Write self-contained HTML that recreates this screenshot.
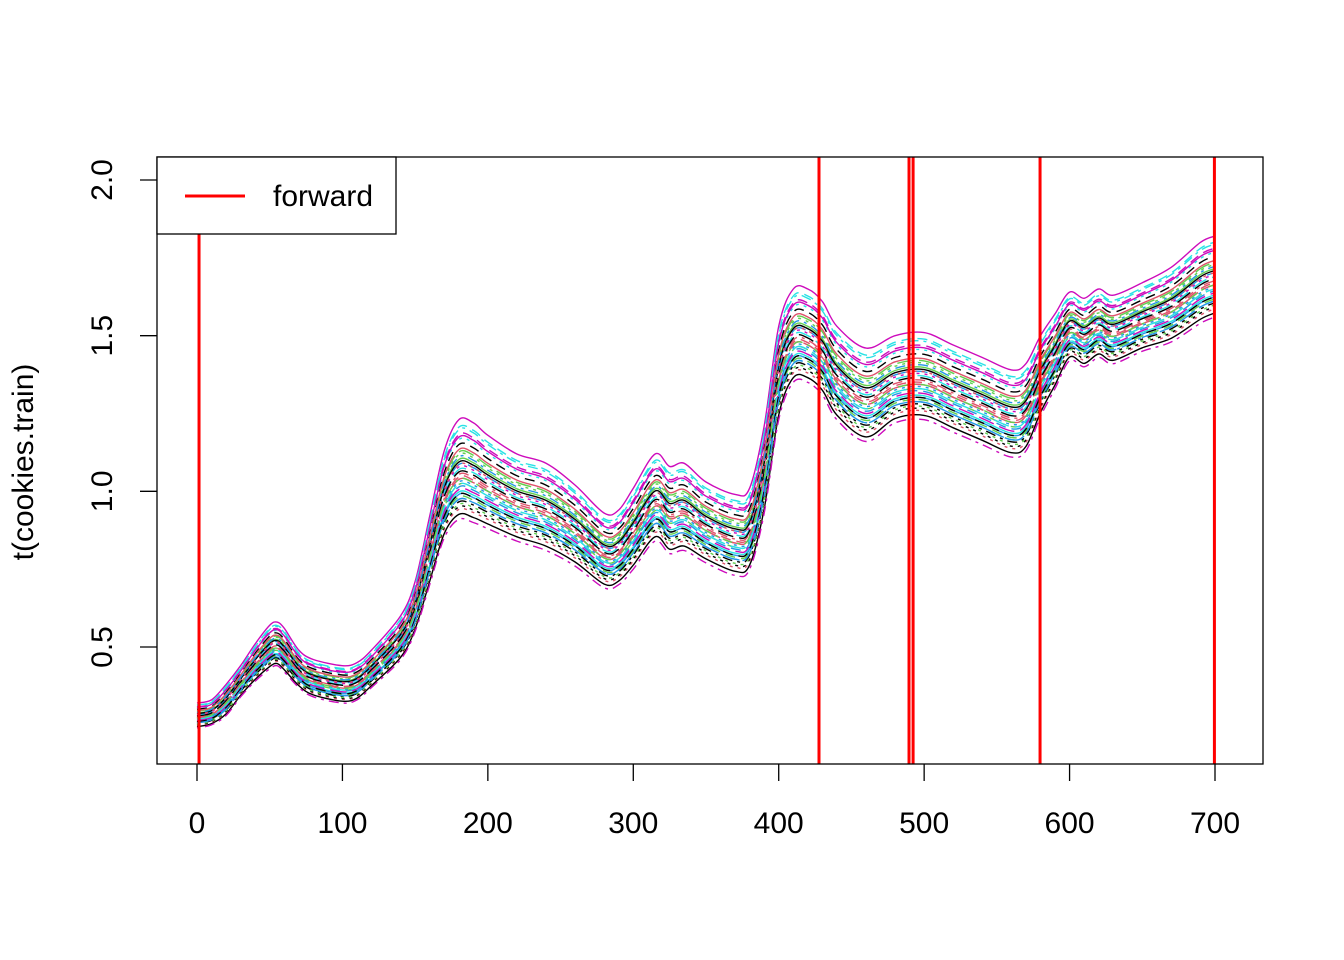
<!DOCTYPE html>
<html><head><meta charset="utf-8"><style>
html,body{margin:0;padding:0;background:#fff}
svg{display:block;font-family:"Liberation Sans",Arial,sans-serif}
</style></head><body>
<svg id="chart" width="1344" height="960" viewBox="0 0 1344 960">
<g id="lines"></g>
<g id="sel"></g>
<rect x="157" y="157" width="1106" height="607" fill="none" stroke="#000" stroke-width="1.3"/>
<g id="xaxis"></g>
<g id="yaxis"></g>
<text transform="translate(33,462) rotate(-90)" text-anchor="middle" font-size="30">t(cookies.train)</text>
<g>
<rect x="157" y="157" width="239" height="77" fill="#fff" stroke="#000" stroke-width="1.3"/>
<line x1="185" y1="196" x2="245" y2="196" stroke="#ff0000" stroke-width="3"/>
<text x="273" y="206" font-size="30">forward</text>
</g>
</svg>
<script>
const xs=[0,10,20,30,40,50,55,60,70,80,100,110,120,140,150,160,170,180,190,200,220,240,260,280,290,300,315,325,335,350,370,380,390,400,410,420,430,440,460,480,500,520,540,560,570,580,590,600,610,620,630,650,670,690,700];
const baseValues=[0.28,0.29,0.33,0.39,0.45,0.50,0.51,0.49,0.43,0.40,0.38,0.39,0.43,0.53,0.63,0.81,0.99,1.07,1.06,1.03,0.98,0.95,0.89,0.81,0.82,0.88,0.98,0.94,0.95,0.90,0.86,0.88,1.07,1.38,1.50,1.50,1.46,1.38,1.31,1.36,1.37,1.33,1.29,1.25,1.27,1.37,1.45,1.53,1.51,1.54,1.52,1.56,1.60,1.67,1.69];
const spreadValues=[0.04,0.04,0.05,0.05,0.06,0.07,0.07,0.07,0.06,0.06,0.06,0.06,0.06,0.07,0.08,0.11,0.14,0.16,0.16,0.15,0.14,0.14,0.13,0.12,0.12,0.13,0.14,0.14,0.14,0.13,0.13,0.13,0.14,0.15,0.15,0.15,0.15,0.15,0.15,0.14,0.14,0.14,0.14,0.14,0.14,0.13,0.12,0.11,0.11,0.11,0.11,0.11,0.12,0.13,0.13];
const seriesK=[-0.9,-0.2,0.3,-0.6,0.0,1.0,0.5,-0.8,-0.3,0.1,-0.45,0.7,-0.75,-0.1,0.35,-0.5,0.85,0.05,-0.65,-0.2,0.2,-0.35,0.6,-1.0,-0.05,0.4,-0.55,-0.25,0.8,-0.4,0.15,-0.15,-0.7,0.25,-0.3,0.65,-0.5,0.1,-0.2,-0.6];
const selectedX=[1.4,427.7,489.6,492.4,579.7,699.6];
const xTicks=[0,100,200,300,400,500,600,700];
const yTicks=[0.5,1.0,1.5,2.0];
const yTickLabels=["0.5","1.0","1.5","2.0"];
const colors=["#000000","#DF536B","#61D04F","#2297E6","#28E2E5","#CD0BBC"];
const dashes=["","10,6","3,5","3,5,10,5","16,6"];
const NS="http://www.w3.org/2000/svg";
const X=v=>197+v*(1215-197)/700;
const Y=v=>647-(v-0.5)*(647-180)/1.5;
function smoothPath(pts){
  let d='M'+pts[0][0].toFixed(1)+','+pts[0][1].toFixed(1);
  for(let i=0;i<pts.length-1;i++){
    const p0=pts[Math.max(0,i-1)],p1=pts[i],p2=pts[i+1],p3=pts[Math.min(pts.length-1,i+2)];
    const c1=[p1[0]+(p2[0]-p0[0])/6,p1[1]+(p2[1]-p0[1])/6];
    const c2=[p2[0]-(p3[0]-p1[0])/6,p2[1]-(p3[1]-p1[1])/6];
    d+='C'+c1[0].toFixed(1)+','+c1[1].toFixed(1)+' '+c2[0].toFixed(1)+','+c2[1].toFixed(1)+' '+p2[0].toFixed(1)+','+p2[1].toFixed(1);
  }
  return d;
}
const lines=document.getElementById('lines');
seriesK.forEach((k,i)=>{
  const p=document.createElementNS(NS,'path');
  p.setAttribute('d',smoothPath(xs.map((x,j)=>[X(x),Y(baseValues[j]+k*spreadValues[j])])));
  p.setAttribute('fill','none');
  p.setAttribute('stroke',colors[i%6]);
  p.setAttribute('stroke-width','1.4');
  if(dashes[i%5])p.setAttribute('stroke-dasharray',dashes[i%5]);
  
  
  lines.appendChild(p);
});
const sel=document.getElementById('sel');
selectedX.forEach((v,i)=>{
  const l=document.createElementNS(NS,'line');
  l.setAttribute('x1',X(v));l.setAttribute('x2',X(v));
  l.setAttribute('y1',157);l.setAttribute('y2',764);
  l.setAttribute('stroke','#ff0000');l.setAttribute('stroke-width','3');
  
  
  sel.appendChild(l);
});
const xa=document.getElementById('xaxis');
xTicks.forEach(t=>{
  const l=document.createElementNS(NS,'line');
  l.setAttribute('x1',X(t));l.setAttribute('x2',X(t));l.setAttribute('y1',764);l.setAttribute('y2',781);
  l.setAttribute('stroke','#000');l.setAttribute('stroke-width','1.3');
  
  
  xa.appendChild(l);
  const tx=document.createElementNS(NS,'text');
  tx.setAttribute('x',X(t));tx.setAttribute('y',833);tx.setAttribute('text-anchor','middle');tx.setAttribute('font-size','30');
  tx.textContent=t;
  
  
  xa.appendChild(tx);
});
const ya=document.getElementById('yaxis');
yTicks.forEach((t,i)=>{
  const l=document.createElementNS(NS,'line');
  l.setAttribute('x1',140);l.setAttribute('x2',157);l.setAttribute('y1',Y(t));l.setAttribute('y2',Y(t));
  l.setAttribute('stroke','#000');l.setAttribute('stroke-width','1.3');
  
  
  ya.appendChild(l);
  const tx=document.createElementNS(NS,'text');
  tx.setAttribute('transform','translate(112,'+Y(t)+') rotate(-90)');
  tx.setAttribute('text-anchor','middle');tx.setAttribute('font-size','30');
  tx.textContent=yTickLabels[i];
  
  
  ya.appendChild(tx);
});
</script>
</body></html>
